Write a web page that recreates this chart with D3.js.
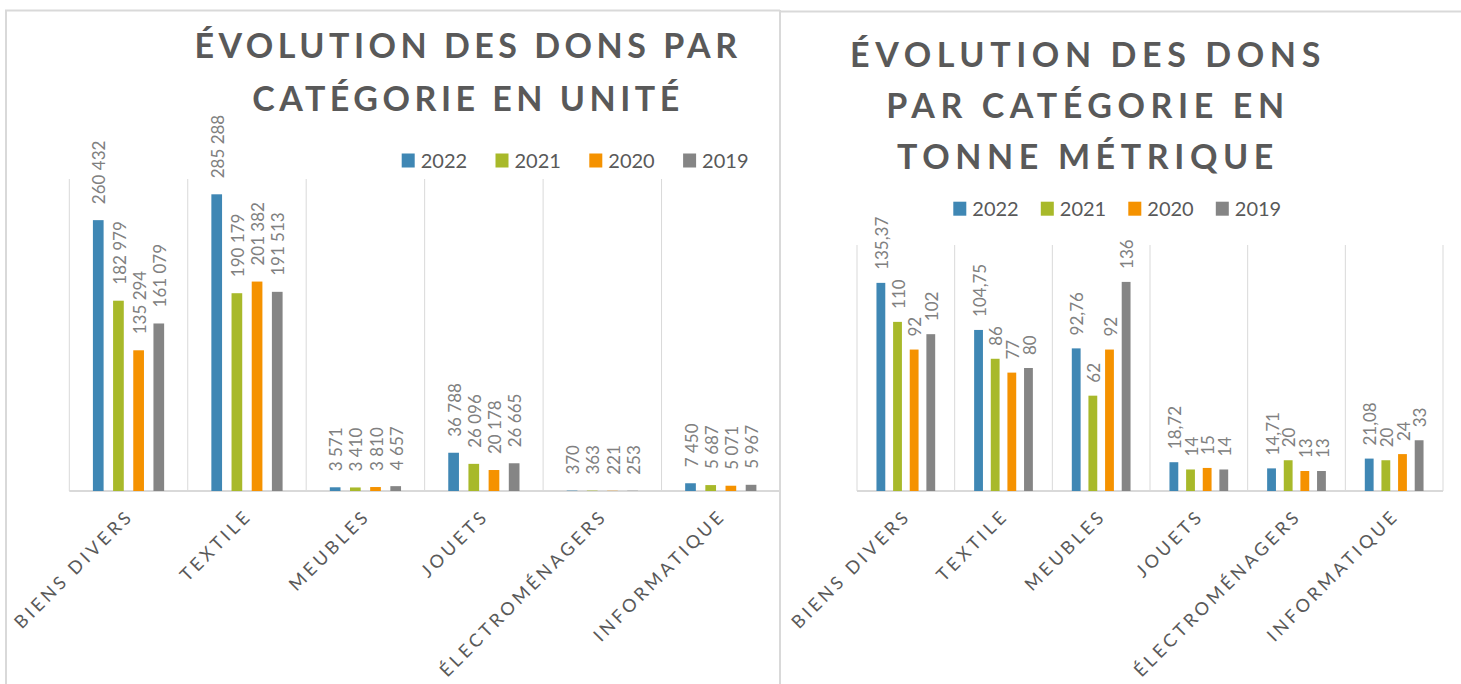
<!DOCTYPE html>
<html lang="fr">
  <head>
    <meta charset="UTF-8" />
    <title>Évolution des dons par catégorie</title>
    <script src="https://d3js.org/d3.v7.min.js"></script>
    <style>
      body {
        margin: 0;
        background: #fff;
      }
      svg {
        display: block;
        font-family: Lato, "Open Sans", sans-serif;
      }
      .title {
        font-weight: 700;
        fill: #595959;
      }
      .value-label {
        fill: #808080;
      }
      .cat-label {
        fill: #595959;
      }
      .legend text {
        fill: #595959;
      }
      .frame,
      .grid {
        stroke: #d9d9d9;
        fill: none;
      }
    </style>
  </head>
  <body>
    <svg width="1461" height="684"></svg>
    <script>
      // catégories et années
      const categories = ["BIENS DIVERS", "TEXTILE", "MEUBLES", "JOUETS", "ÉLECTROMÉNAGERS", "INFORMATIQUE"];
      const years = ["2022", "2021", "2020", "2019"];

      // dons en unité
      const units2022 = [260432, 285288, 3571, 36788, 370, 7450];
      const units2021 = [182979, 190179, 3410, 26096, 363, 5687];
      const units2020 = [135294, 201382, 3810, 20178, 221, 5071];
      const units2019 = [161079, 191513, 4657, 26665, 253, 5967];

      // dons en tonne métrique
      const tonnes2022 = [135.37, 104.75, 92.76, 18.72, 14.71, 21.08];
      const tonnes2021 = [110, 86, 62, 14, 20, 20];
      const tonnes2020 = [92, 77, 92, 15, 13, 24];
      const tonnes2019 = [102, 80, 136, 14, 13, 33];

      // bornes des axes (axes masqués)
      const unitsMax = 300000;
      const tonnesMax = 160;

      const unitsTitle = ["ÉVOLUTION DES DONS PAR", "CATÉGORIE EN UNITÉ"];
      const tonnesTitle = ["ÉVOLUTION DES DONS", "PAR CATÉGORIE EN", "TONNE MÉTRIQUE"];

      const yearColors = ["#3f87b4", "#a8b92a", "#f59200", "#858585"];

      const fr = d3.formatLocale({ decimal: ",", thousands: "\u00a0", grouping: [3], currency: ["", " €"] });
      const fmtUnits = fr.format(",d");
      const fmtTonnes = fr.format(",.2~f");

      const svg = d3.select("svg");
      const color = d3.scaleOrdinal().domain(years).range(yearColors);

      // cadres
      svg.append("line").attr("class", "frame").attr("stroke-width", 2)
        .attr("x1", 5).attr("x2", 780).attr("y1", 10.5).attr("y2", 10.5);
      svg.append("line").attr("class", "frame").attr("stroke-width", 2)
        .attr("x1", 6).attr("x2", 6).attr("y1", 10).attr("y2", 684);
      svg.append("line").attr("class", "frame").attr("stroke-width", 2)
        .attr("x1", 780).attr("x2", 1461).attr("y1", 11.5).attr("y2", 11.5);
      svg.append("line").attr("class", "frame").attr("stroke-width", 2)
        .attr("x1", 780).attr("x2", 780).attr("y1", 10).attr("y2", 684);

      function drawChart(o) {
        const g = svg.append("g");

        const x0 = d3.scaleBand().domain(categories).range(o.xRange);
        const x1 = d3.scaleBand().domain(years).range([0, x0.bandwidth()])
          .paddingInner(0.47).paddingOuter(1.17);
        const y = d3.scaleLinear().domain([0, o.yMax]).range(o.yRange);

        // titre
        g.append("text")
          .attr("class", "title")
          .attr("text-anchor", "middle")
          .style("font-size", o.titleSize + "px")
          .style("letter-spacing", o.titleSpacing + "px")
          .selectAll("tspan")
          .data(o.title)
          .join("tspan")
          .attr("x", o.titleX)
          .attr("y", (d, i) => o.titleY + i * o.titleStep)
          .text((d) => d);

        // légende
        const legend = g.append("g").attr("class", "legend")
          .selectAll("g")
          .data(years)
          .join("g")
          .attr("transform", (d, i) => `translate(${o.legendX + i * o.legendStep},${o.legendY})`);
        legend.append("rect")
          .attr("y", -7).attr("width", 13).attr("height", 14)
          .attr("fill", (d) => color(d));
        legend.append("text")
          .attr("x", 19).attr("dy", "0.35em")
          .style("font-size", "20px")
          .text((d) => d);

        // quadrillage vertical + axe
        const edges = categories.map((c) => x0(c)).concat([o.xRange[1]]);
        g.selectAll(".grid-v")
          .data(edges)
          .join("line")
          .attr("class", "grid")
          .attr("x1", (d) => d).attr("x2", (d) => d)
          .attr("y1", o.yRange[1]).attr("y2", o.yRange[0]);
        g.append("line")
          .attr("class", "grid")
          .attr("stroke-width", 2)
          .attr("x1", o.xRange[0]).attr("x2", o.xRange[1])
          .attr("y1", y(0)).attr("y2", y(0));

        // barres
        const rows = categories.map((c, i) => ({
          cat: c,
          values: years.map((yr, j) => ({ year: yr, value: o.series[j][i] })),
        }));
        const groups = g.selectAll(".cat")
          .data(rows)
          .join("g")
          .attr("transform", (d) => `translate(${x0(d.cat)},0)`);
        groups.selectAll("rect")
          .data((d) => d.values)
          .join("rect")
          .attr("x", (d) => x1(d.year))
          .attr("y", (d) => y(d.value))
          .attr("width", x1.bandwidth())
          .attr("height", (d) => y(0) - y(d.value))
          .attr("fill", (d) => color(d.year));

        // étiquettes de valeur
        groups.selectAll(".value-label")
          .data((d) => d.values)
          .join("text")
          .attr("class", "value-label")
          .attr("transform", (d) => `translate(${x1(d.year) + x1.bandwidth() / 2 + 1},${y(d.value) - o.labelGap}) rotate(-90)`)
          .attr("dy", "0.36em")
          .style("font-size", o.labelSize + "px")
          .text((d) => o.fmt(d.value));

        // libellés des catégories
        g.selectAll(".cat-label")
          .data(categories)
          .join("text")
          .attr("class", "cat-label")
          .attr("text-anchor", "end")
          .style("font-size", "18px")
          .style("letter-spacing", "3.5px")
          .attr("transform", (d) => `translate(${x0(d) + x0.bandwidth() / 2 + 6},${y(0) + 26}) rotate(-45)`)
          .text((d) => d);
      }

      drawChart({
        series: [units2022, units2021, units2020, units2019],
        yMax: unitsMax,
        fmt: fmtUnits,
        xRange: [69.3, 780],
        yRange: [491, 179],
        title: unitsTitle,
        titleX: 468,
        titleY: 58,
        titleStep: 53,
        titleSize: 34,
        titleSpacing: 4.5,
        legendX: 401.7,
        legendY: 160.5,
        legendStep: 93.8,
        labelGap: 16,
        labelSize: 17,
      });

      drawChart({
        series: [tonnes2022, tonnes2021, tonnes2020, tonnes2019],
        yMax: tonnesMax,
        fmt: fmtTonnes,
        xRange: [857, 1443],
        yRange: [491, 245],
        title: tonnesTitle,
        titleX: 1088,
        titleY: 67,
        titleStep: 51,
        titleSize: 34,
        titleSpacing: 5.6,
        legendX: 953.3,
        legendY: 208.7,
        legendStep: 87.5,
        labelGap: 13,
        labelSize: 17,
      });
    </script>
  </body>
</html>
